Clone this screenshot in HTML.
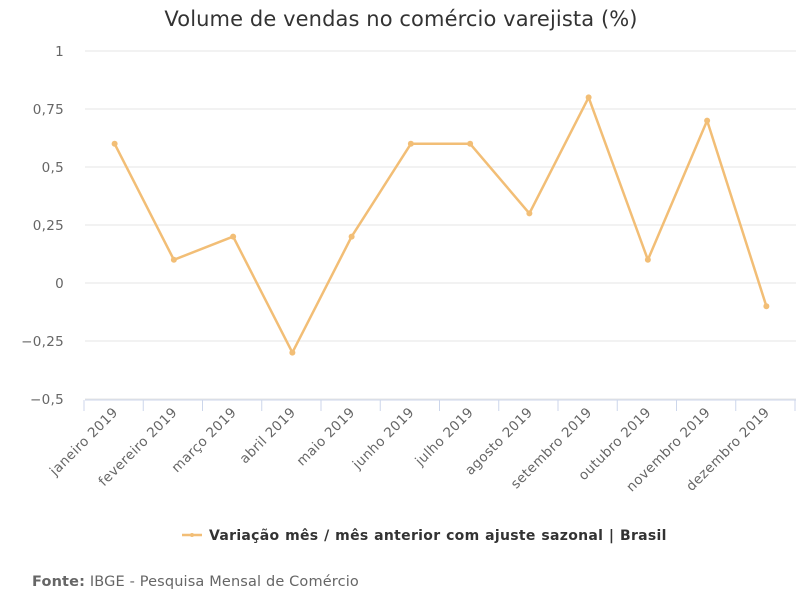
<!DOCTYPE html>
<html><head><meta charset="utf-8"><style>
body{margin:0;background:#fff;}
svg{display:block;font-family:"DejaVu Sans","Liberation Sans",sans-serif;}
</style></head><body>
<svg id="chart" width="803" height="605">
<text x="401" y="26" text-anchor="middle" font-size="21" letter-spacing="0.1" fill="#333">Volume de vendas no comércio varejista (%)</text>
<g id="grid"></g><g id="xaxis"></g><g id="series"></g>
<g>
<line x1="182" y1="535" x2="202" y2="535" stroke="#f2be76" stroke-width="2.5"/>
<circle cx="192" cy="535" r="2" fill="#f2be76"/>
<text x="209" y="540" font-size="14" letter-spacing="0.3" word-spacing="0.5" font-weight="bold" fill="#333">Variação mês / mês anterior com ajuste sazonal | Brasil</text>
</g>
<text x="32" y="586" font-size="14.5" letter-spacing="0.15" fill="#666"><tspan font-weight="bold">Fonte:</tspan> IBGE - Pesquisa Mensal de Comércio</text>
</svg>
<script>
const categories=["janeiro 2019","fevereiro 2019","março 2019","abril 2019","maio 2019","junho 2019","julho 2019","agosto 2019","setembro 2019","outubro 2019","novembro 2019","dezembro 2019"];
const values=[0.6,0.1,0.2,-0.3,0.2,0.6,0.6,0.3,0.8,0.1,0.7,-0.1];
const yTicks=[1,0.75,0.5,0.25,0,-0.25,-0.5];
const yTickLabels=["1","0,75","0,5","0,25","0","−0,25","−0,5"];
const NS="http://www.w3.org/2000/svg";
const L=85,R=796,T=51,B=399,yMin=-0.5,yMax=1;
const bw=(R-L)/categories.length;
const xs=i=>L+bw*(i+0.5);
const ys=v=>B-(v-yMin)/(yMax-yMin)*(B-T);
function mk(t,a,p){const e=document.createElementNS(NS,t);for(const k in a)e.setAttribute(k,a[k]);p.appendChild(e);return e;}
const g=document.getElementById('grid');
yTicks.forEach((v,i)=>{
 const ln=mk('line',{x1:L,x2:R,y1:ys(v),y2:ys(v),stroke:'#e6e6e6'},g);
 
 
 const t=mk('text',{x:64,y:ys(v)+5,'text-anchor':'end','font-size':13.5,'letter-spacing':0.3,fill:'#666'},g);
 t.textContent=yTickLabels[i];
 
 
});
const xa=document.getElementById('xaxis');
const ax=mk('line',{x1:L,x2:R,y1:B+1,y2:B+1,stroke:'#ccd6eb'},xa);


for(let i=0;i<=categories.length;i++){
 const tk=mk('line',{x1:L-1+bw*i,x2:L-1+bw*i,y1:B+1,y2:B+12,stroke:'#ccd6eb'},xa);
 
 
}
categories.forEach((c,i)=>{
 const x=xs(i)+4,y=B+14;
 const t=mk('text',{x:x,y:y,'text-anchor':'end','font-size':13.5,'letter-spacing':0.4,fill:'#666',transform:`rotate(-45 ${x} ${y})`},xa);
 t.textContent=c;
 
 
});
const s=document.getElementById('series');
const p=mk('polyline',{points:values.map((v,i)=>xs(i)+','+ys(v)).join(' '),fill:'none',stroke:'#f2be76','stroke-width':2.5,'stroke-linejoin':'round'},s);


values.forEach((v,i)=>{
 const c=mk('circle',{cx:xs(i),cy:ys(v),r:3,fill:'#f2be76'},s);
 
 
});
</script>
</body></html>
